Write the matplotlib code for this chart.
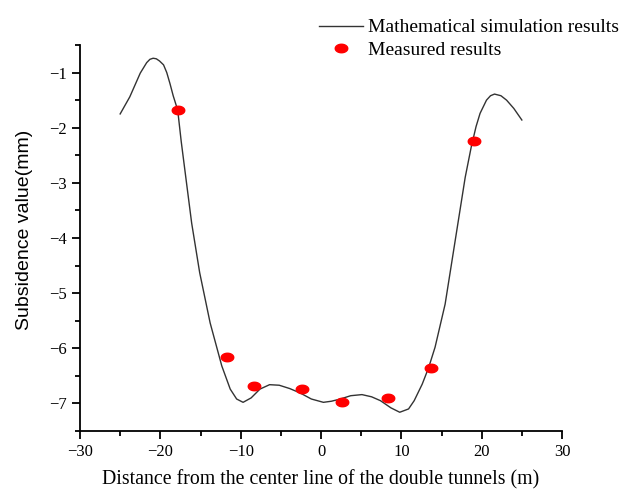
import matplotlib
matplotlib.use("Agg")
import matplotlib.pyplot as plt
import numpy as np
from matplotlib.path import Path
from matplotlib.ticker import MultipleLocator

# simulation curve
sim_x = [-25.0, -23.8, -22.5, -21.7, -21.3, -20.9, -20.5, -20.1, -19.6, -19.2,
         -18.8, -18.4, -17.84, -17.4, -16.9, -16.1, -15.1, -13.8, -12.35, -11.3,
         -10.5, -9.7, -8.7, -7.6, -6.4, -5.2, -3.9, -2.6, -1.2, 0.3,
         1.3, 2.4, 3.7, 5.1, 6.3, 7.4, 8.7, 9.8, 10.9, 11.6,
         12.6, 13.4, 14.2, 15.45, 16.7, 17.95, 18.7, 19.3, 19.8, 20.6,
         21.1, 21.6, 22.4, 23.1, 24.0, 25.0]
sim_y = [-1.75, -1.44, -1.01, -0.82, -0.76, -0.74, -0.75, -0.79, -0.86, -1.00,
         -1.20, -1.42, -1.68, -2.25, -2.82, -3.73, -4.63, -5.54, -6.32, -6.74,
         -6.92, -6.98, -6.90, -6.74, -6.66, -6.67, -6.73, -6.81, -6.92, -6.98,
         -6.96, -6.92, -6.86, -6.84, -6.88, -6.95, -7.08, -7.16, -7.10, -6.95,
         -6.65, -6.35, -5.98, -5.20, -4.05, -2.90, -2.35, -1.98, -1.74, -1.50,
         -1.42, -1.39, -1.42, -1.50, -1.65, -1.86]

# measured points
meas_x = [-17.8, -11.7, -8.3, -2.35, 2.67, 8.3, 13.67, 19.0]
meas_y = [-1.68, -6.16, -6.68, -6.73, -6.98, -6.90, -6.36, -2.24]

plt.rcParams["font.family"] = "Liberation Serif"
plt.rcParams["axes.unicode_minus"] = True

fig = plt.figure(figsize=(6.22, 4.91), dpi=100)
ax = fig.add_axes([80 / 622, 1 - 431 / 491, (562 - 80) / 622, (431 - 45) / 491])

# slightly flattened dot, like the source
t = np.linspace(0, 2 * np.pi, 40)
ell = Path(np.column_stack([np.cos(t), 0.68 * np.sin(t)]), closed=True)

ax.plot(sim_x, sim_y, color="#333333", lw=1.0, label="Mathematical simulation results")
ax.plot(meas_x, meas_y, ls="none", marker=ell, ms=9, color="red", mec="red",
        label="Measured results")

ax.set_xlim(-30, 30)
ax.set_ylim(-7.5, -0.5)
ax.xaxis.set_major_locator(MultipleLocator(10))
ax.xaxis.set_minor_locator(MultipleLocator(5))
ax.yaxis.set_major_locator(MultipleLocator(1))
ax.yaxis.set_minor_locator(MultipleLocator(0.5))

for s in ["top", "right"]:
    ax.spines[s].set_visible(False)
for s in ["left", "bottom"]:
    ax.spines[s].set_linewidth(1.3)
ax.tick_params(which="major", direction="out", length=6, width=1.3, labelsize=12)
ax.tick_params(which="minor", direction="out", length=3.5, width=1.3)

ax.set_xlabel("Distance from the center line of the double tunnels (m)", fontsize=14.3, labelpad=7)
ax.set_ylabel("Subsidence value(mm)", fontsize=14, family="Liberation Sans")
ax.yaxis.set_label_coords(-0.098, 0.52)

leg = fig.legend(loc="upper left", bbox_to_anchor=(309 / 622, 1 - 9 / 491), frameon=False,
                 fontsize=14, handlelength=2.3, handletextpad=0.25, labelspacing=0.25,
                 borderpad=0)

fig.savefig("out.png", dpi=100)
